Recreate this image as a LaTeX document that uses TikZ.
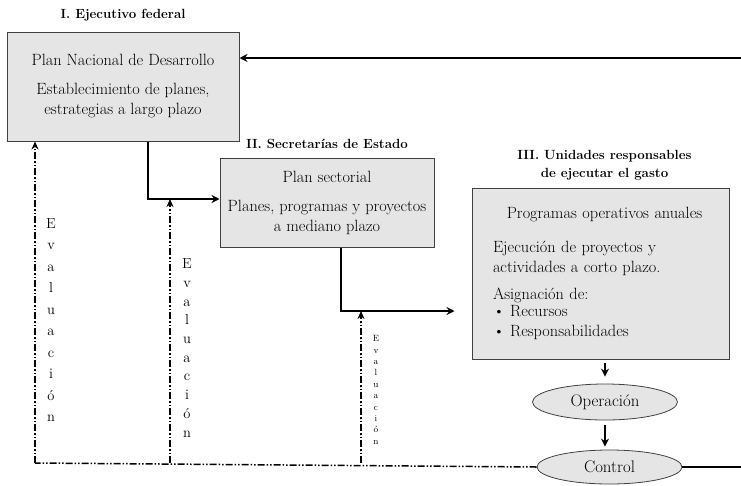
\documentclass[tikz,border=0pt]{standalone}
\usepackage{amsmath}
\usepackage{tikz}
\usetikzlibrary{shapes.geometric, arrows.meta, positioning, calc}

\newcommand{\evalword}{E\\v\\a\\l\\u\\a\\c\\i\\ó\\n}

\begin{document}
\begin{tikzpicture}[
    x=1pt, y=-1pt,
    font=\fontsize{16.3}{20}\selectfont,
    box/.style={rectangle, draw=black!75, line width=1pt, fill=black!10, align=center, inner sep=0pt},
    title/.style={font=\fontsize{13.3}{18}\selectfont\bfseries, align=center},
    stage/.style={ellipse, draw=black!75, line width=0.8pt, fill=black!10, minimum width=145pt, inner sep=0pt, font=\fontsize{16.8}{20}\selectfont},
    arrow/.style={line width=1.7pt, -{Stealth[length=8pt,width=8pt]}},
    evalline/.style={line width=1.5pt, dash pattern=on 7pt off 2pt on 1.5pt off 2pt on 1.5pt off 2pt},
    evalarrow/.style={evalline, -{Stealth[length=8pt,width=7pt]}},
    evaltext/.style={align=center}
]
\useasboundingbox (0,0) rectangle (741,485);

\node (b1) [box, minimum width=232pt, minimum height=109pt] at (123,86.5) {Plan Nacional de Desarrollo\\[9pt]Establecimiento de planes,\\estrategias a largo plazo};
\node (b2) [box, minimum width=214pt, minimum height=89pt] at (327,202.5) {Plan sectorial\\[9pt]Planes, programas y proyectos\\a mediano plazo};
\node (b3) [box, minimum width=257pt, minimum height=171pt, text width=215pt, align=left] at (600.5,273.5) {\makebox[\hsize]{\hspace{8pt}Programas operativos anuales}\\[14pt]Ejecución de proyectos y\\actividades a corto plazo.\\[7pt]Asignación de:\\[-3pt]\textbullet{} Recursos\\\textbullet{} Responsabilidades};

\node (t1) [title, above=7pt of b1] {I. Ejecutivo federal};
\node (t2) [title, above=5pt of b2] {II. Secretarías de Estado};
\node (t3) [title, above=4pt of b3, xshift=4pt] {III. Unidades responsables\\de ejecutar el gasto};

\node (op) [stage, minimum height=36pt] at (605,402) {Operación};
\node (ctrl) [stage, minimum height=34pt] at (609.5,467) {Control};

\coordinate (j1) at ([yshift=3.5pt]b2.west);
\coordinate (j2) at ([xshift=-17pt,yshift=-37.5pt]b3.west);
\coordinate (fb) at (741,58);
\coordinate (fo) at (741,467);
\coordinate (e1) at (35,463);
\coordinate (e2) at (170,463);
\coordinate (e3) at (361,463);

\draw [arrow] (fb) -- (fb -| b1.east);
\draw [arrow] ([xshift=25pt]b1.south) |- (j1);
\draw [arrow] ([xshift=14pt]b2.south) |- (j2);
\draw [arrow, shorten <=3pt, shorten >=7pt] (b3.south -| op.north) -- (op.north);
\draw [arrow, shorten <=5pt, shorten >=3pt] (op.south) -- (op.south |- ctrl.north);
\draw [line width=1.3pt] (ctrl.east) -- (fo);

\draw [evalline] (ctrl.west) -- (e1);
\draw [evalarrow] (e1) -- (e1 |- b1.south);
\draw [evalarrow] (e2) -- (e2 |- j1);
\draw [evalarrow] (e3) -- (e3 |- j2);

\node (ev1) [evaltext, font=\fontsize{14.5}{21.5}\selectfont] at (51,320) {\evalword};
\node (ev2) [evaltext, font=\fontsize{14.5}{18.7}\selectfont] at (187,348) {\evalword};
\node (ev3) [evaltext, font=\fontsize{9}{11.4}\selectfont] at (376,390) {\evalword};

\end{tikzpicture}
\end{document}
